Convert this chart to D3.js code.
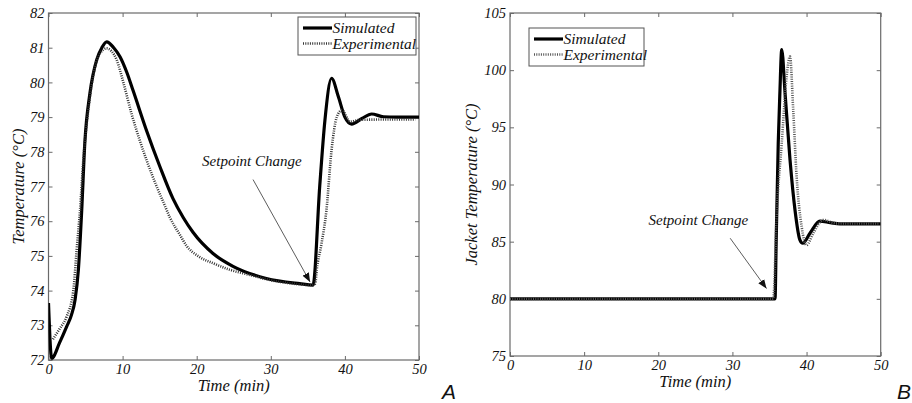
<!DOCTYPE html>
<html>
<head>
<meta charset="utf-8">
<script src="https://cdn.jsdelivr.net/npm/d3@7"></script>
<style>
  body { margin: 0; background: #fff; }
  text { font-family: "Liberation Serif", "Times New Roman", serif; font-style: italic; }
</style>
</head>
<body>
<svg id="chart" width="912" height="403"></svg>
<script>
// ---- data ----
const timeTicks = [0, 10, 20, 30, 40, 50];
const tempTicks = [72, 73, 74, 75, 76, 77, 78, 79, 80, 81, 82];
const jacketTicks = [75, 80, 85, 90, 95, 100, 105];

// panel A: reactor temperature
const simTimeA = [0, 0.43, 1.5, 2.45, 3.1, 3.58, 4.03, 4.48, 4.9, 5.6, 6.5, 7.2, 7.85, 8.8, 9.65, 10.55, 11.44, 13.25, 15.04, 16.8, 18.2, 19.5, 22.2, 24.9, 29.4, 33.9, 35.7, 36.6, 37.3, 38.2, 39.1, 40, 40.9, 42.3, 43.6, 45.2, 47, 50];
const simTempA = [73.64, 72.05, 72.5, 72.96, 73.3, 73.73, 74.6, 76.3, 78.25, 79.7, 80.65, 81.0, 81.17, 81.0, 80.74, 80.3, 79.75, 78.6, 77.57, 76.65, 76.1, 75.68, 75.07, 74.7, 74.35, 74.2, 74.16, 77.0, 78.9, 80.12, 79.6, 79.0, 78.8, 78.96, 79.09, 79.01, 79.0, 79.0];
const expTimeA = [0.6, 1.5, 2.45, 3.35, 3.8, 4.25, 4.7, 5.37, 6.28, 7.0, 7.85, 8.5, 9.2, 10.1, 11.2, 12.3, 13.25, 14.6, 15.5, 16.4, 17.75, 18.6, 20.3, 22.2, 24.5, 27.2, 30, 33, 35.3, 36.0, 36.2, 36.8, 37.5, 38.2, 38.9, 39.6, 40.7, 42, 45.2, 49.5];
const expTempA = [72.6, 72.9, 73.25, 74.0, 75.17, 76.3, 77.76, 79.2, 80.45, 80.85, 80.98, 80.9, 80.65, 80.0, 79.1, 78.34, 77.75, 77.0, 76.55, 76.1, 75.6, 75.3, 74.98, 74.79, 74.6, 74.45, 74.3, 74.2, 74.16, 74.2, 74.6, 75.3, 76.3, 78.05, 79.0, 79.2, 78.87, 78.92, 78.93, 78.93];

// panel B: jacket temperature
const simTimeB = [0, 35.75, 35.9, 36.18, 36.4, 36.65, 37.1, 37.77, 38.44, 39.1, 39.48, 40.46, 41.8, 43.2, 44.5, 50];
const simTempB = [80, 80, 84.9, 93.6, 98, 101.8, 98, 92.15, 87.77, 85.15, 84.86, 85.74, 86.8, 86.66, 86.55, 86.55];
const expTimeB = [0, 35.5, 36.0, 36.65, 37.3, 37.77, 38.2, 38.66, 39.34, 40.0, 40.9, 42.25, 44, 49.7];
const expTempB = [80, 80, 87.8, 93.6, 99.4, 101.2, 96.5, 90.7, 86.3, 84.7, 85.74, 86.9, 86.6, 86.6];

const seriesNames = ["Simulated", "Experimental"];

const svg = d3.select("#chart");
svg.append("rect").attr("width", 912).attr("height", 403).attr("fill", "#fff");

svg.append("defs").append("marker")
    .attr("id", "arrow")
    .attr("viewBox", "0 0 10 10")
    .attr("refX", 10).attr("refY", 5)
    .attr("markerWidth", 9).attr("markerHeight", 9)
    .attr("markerUnits", "userSpaceOnUse")
    .attr("orient", "auto")
    .append("path").attr("d", "M0,1 L10,5 L0,9 Z").attr("fill", "#111");

function drawPanel(cfg) {
    const x = d3.scaleLinear().domain([0, 50]).range([cfg.left, cfg.right]);
    const y = d3.scaleLinear().domain(cfg.yDomain).range([cfg.bottom, cfg.top]);
    const g = svg.append("g");
    const axisColor = "#6a6a6a";

    // box
    g.append("rect")
        .attr("x", cfg.left).attr("y", cfg.top)
        .attr("width", cfg.right - cfg.left).attr("height", cfg.bottom - cfg.top)
        .attr("fill", "none").attr("stroke", axisColor).attr("stroke-width", 1.2);

    const styleAxis = sel => {
        sel.select(".domain").remove();
        sel.selectAll("line").attr("stroke", axisColor);
        sel.selectAll("text")
            .style("font-family", "'Liberation Serif', serif")
            .style("font-style", "italic")
            .attr("font-size", 14.5)
            .attr("fill", "#111");
    };

    g.append("g").attr("transform", `translate(0,${cfg.bottom})`)
        .call(d3.axisBottom(x).tickValues(timeTicks).tickSizeInner(-4).tickSizeOuter(0).tickPadding(4))
        .call(styleAxis);
    g.append("g").attr("transform", `translate(0,${cfg.top})`)
        .call(d3.axisTop(x).tickValues(timeTicks).tickSizeInner(-4).tickSizeOuter(0).tickFormat(""))
        .call(styleAxis);
    g.append("g").attr("transform", `translate(${cfg.left},0)`)
        .call(d3.axisLeft(y).tickValues(cfg.yTicks).tickSizeInner(-4).tickSizeOuter(0).tickPadding(4))
        .call(styleAxis);
    g.append("g").attr("transform", `translate(${cfg.right},0)`)
        .call(d3.axisRight(y).tickValues(cfg.yTicks).tickSizeInner(-4).tickSizeOuter(0).tickFormat(""))
        .call(styleAxis);

    // axis titles
    g.append("text")
        .attr("x", (cfg.left + cfg.right) / 2).attr("y", cfg.bottom + 31)
        .attr("text-anchor", "middle").attr("font-size", 16.5).attr("fill", "#111")
        .text("Time  (min)");
    g.append("text")
        .attr("transform", `translate(${cfg.yLabelX},${(cfg.top + cfg.bottom) / 2}) rotate(-90)`)
        .attr("text-anchor", "middle").attr("font-size", 16.5).attr("fill", "#111")
        .text(cfg.yLabel);

    // curves
    const line = d3.line().x(d => x(d[0])).y(d => y(d[1])).curve(d3.curveMonotoneX);
    const expData = d3.zip(cfg.expT, cfg.expV);
    const simData = d3.zip(cfg.simT, cfg.simV);

    const clip = "clip" + cfg.id;
    g.append("clipPath").attr("id", clip).append("rect")
        .attr("x", cfg.left).attr("y", cfg.top)
        .attr("width", cfg.right - cfg.left).attr("height", cfg.bottom - cfg.top);
    const plot = g.append("g").attr("clip-path", `url(#${clip})`);

    plot.append("path").datum(simData)
        .attr("d", line).attr("fill", "none")
        .attr("stroke", "#000").attr("stroke-width", 3.2)
        .attr("stroke-linejoin", "round");
    plot.append("path").datum(expData)
        .attr("d", line).attr("fill", "none")
        .attr("stroke", cfg.expColor).attr("stroke-width", 2.6)
        .attr("stroke-dasharray", "1,1.3");

    // annotation
    g.append("text")
        .attr("x", x(cfg.note.t)).attr("y", y(cfg.note.v))
        .attr("text-anchor", "middle").attr("font-size", 15).attr("fill", "#111")
        .text("Setpoint Change");
    g.append("line")
        .attr("x1", x(cfg.note.t0)).attr("y1", y(cfg.note.v0))
        .attr("x2", x(cfg.note.t1)).attr("y2", y(cfg.note.v1))
        .attr("stroke", "#333").attr("stroke-width", 0.8)
        .attr("marker-end", "url(#arrow)");

    // legend
    const lg = g.append("g").attr("transform", `translate(${cfg.legend[0]},${cfg.legend[1]})`);
    lg.append("rect").attr("width", cfg.legend[2]).attr("height", 38)
        .attr("fill", "#fff").attr("stroke", "#555").attr("stroke-width", 1);
    lg.append("line").attr("x1", 5).attr("x2", 34).attr("y1", 11).attr("y2", 11)
        .attr("stroke", "#000").attr("stroke-width", 3.2);
    lg.append("line").attr("x1", 5).attr("x2", 34).attr("y1", 26.5).attr("y2", 26.5)
        .attr("stroke", cfg.expColor).attr("stroke-width", 2.6).attr("stroke-dasharray", "1,1.3");
    lg.selectAll("text.leg").data(seriesNames).enter().append("text")
        .attr("class", "leg")
        .attr("x", 34.5).attr("y", (d, i) => 16 + i * 15.5)
        .attr("font-size", 15.5).attr("fill", "#111")
        .text(d => d);

    // panel letter
    svg.append("text")
        .attr("x", cfg.letterX).attr("y", 399)
        .style("font-family", "'Liberation Sans', Arial, sans-serif")
        .attr("font-size", 21).attr("fill", "#111")
        .text(cfg.letter);
}

drawPanel({
    id: "A", left: 48.5, right: 419, top: 13, bottom: 360,
    yDomain: [72, 82], yTicks: tempTicks,
    yLabel: "Temperature  (\u00B0C)", yLabelX: 24,
    simT: simTimeA, simV: simTempA, expT: expTimeA, expV: expTempA,
    expColor: "#333",
    note: { t: 27.45, v: 77.6, t0: 27.6, v0: 77.2, t1: 35.3, v1: 74.25 },
    legend: [298, 17, 118],
    letter: "A", letterX: 442
});

drawPanel({
    id: "B", left: 510, right: 880.7, top: 13, bottom: 356,
    yDomain: [75, 105], yTicks: jacketTicks,
    yLabel: "Jacket Temperature  (\u00B0C)", yLabelX: 477,
    simT: simTimeB, simV: simTempB, expT: expTimeB, expV: expTempB,
    expColor: "#555",
    note: { t: 25.4, v: 86.5, t0: 29.7, v0: 85.3, t1: 34.6, v1: 80.9 },
    legend: [529, 28, 115],
    letter: "B", letterX: 897
});
</script>
</body>
</html>
